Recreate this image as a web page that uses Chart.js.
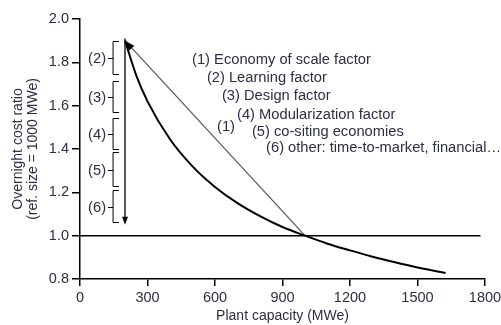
<!DOCTYPE html>
<html>
<head>
<meta charset="utf-8">
<script src="https://cdn.jsdelivr.net/npm/chart.js@4"></script>
<style>
  html, body { margin: 0; padding: 0; background: #fff; }
  #wrap { width: 501px; height: 325px; }
</style>
</head>
<body>
<div id="wrap"><canvas id="chart" width="501" height="325"></canvas></div>
<script>
// capacity (MWe) vs overnight cost ratio
const capacity = [200, 250, 300, 400, 500, 600, 700, 800, 900, 1000, 1100, 1200, 1300, 1400, 1500, 1625]
const costRatio = [1.90, 1.74, 1.62, 1.445, 1.32, 1.225, 1.15, 1.09, 1.04, 1.00, 0.963, 0.932, 0.903, 0.877, 0.853, 0.828]

// straight economy-of-scale line and reference line
const scaleLineX = [200, 1000]
const scaleLineY = [1.90, 1.00]
const refLineX = [0, 1780]
const refLineY = [1.0, 1.0]

// vertical arrow of the other factors
const arrowX = 200
const arrowTop = 1.91
const arrowBottom = 1.05

// brackets beside the vertical arrow
const bracketLabels = ['(2)', '(3)', '(4)', '(5)', '(6)']
const bracketTop = [1.90, 1.715, 1.545, 1.384, 1.209]
const bracketBottom = [1.747, 1.572, 1.402, 1.228, 1.062]
const bracketX = 147

// factor list
const factorLabels = [
  '(1) Economy of scale factor',
  '(2) Learning factor',
  '(3) Design factor',
  '(4) Modularization factor',
  '(1)',
  '(5) co-siting economies',
  '(6) other: time-to-market, financial\u2026'
]
const factorX = [498, 564, 631, 698, 609, 764, 827]
const factorY = [1.811, 1.729, 1.646, 1.559, 1.503, 1.480, 1.407]

const xTicks = [0, 300, 600, 900, 1200, 1500, 1800]
const yTicks = [0.8, 1.0, 1.2, 1.4, 1.6, 1.8, 2.0]

const textColor = '#2e2e44'
const fontFamily = '"Liberation Sans", Arial, sans-serif'

function arrowHead(ctx, tipX, tipY, fromX, fromY, len, half) {
  var a = Math.atan2(tipY - fromY, tipX - fromX)
  ctx.beginPath()
  ctx.moveTo(tipX, tipY)
  ctx.lineTo(tipX - len * Math.cos(a) + half * Math.sin(a), tipY - len * Math.sin(a) - half * Math.cos(a))
  ctx.lineTo(tipX - len * Math.cos(a) - half * Math.sin(a), tipY - len * Math.sin(a) + half * Math.cos(a))
  ctx.closePath()
  ctx.fill()
}

const annotations = {
  id: 'annotations',
  afterDatasetsDraw(chart) {
    var ctx = chart.ctx
    var xs = chart.scales.x
    var ys = chart.scales.y
    ctx.save()

    // arrowhead on the straight line
    ctx.fillStyle = '#000'
    arrowHead(ctx,
      xs.getPixelForValue(scaleLineX[0]), ys.getPixelForValue(scaleLineY[0]),
      xs.getPixelForValue(scaleLineX[1]), ys.getPixelForValue(scaleLineY[1]), 10, 3.5)

    // vertical arrow
    var ax = xs.getPixelForValue(arrowX)
    ctx.strokeStyle = '#000'
    ctx.lineWidth = 1.3
    ctx.beginPath()
    ctx.moveTo(ax, ys.getPixelForValue(arrowTop))
    ctx.lineTo(ax, ys.getPixelForValue(arrowBottom) - 6)
    ctx.stroke()
    arrowHead(ctx, ax, ys.getPixelForValue(arrowBottom), ax, ys.getPixelForValue(arrowTop), 8, 3)

    // brackets
    var bx = xs.getPixelForValue(bracketX)
    ctx.lineWidth = 1
    ctx.font = '14.7px ' + fontFamily
    ctx.fillStyle = textColor
    ctx.textAlign = 'right'
    ctx.textBaseline = 'middle'
    bracketLabels.forEach(function(label, i) {
      var t = Math.round(ys.getPixelForValue(bracketTop[i])) + 0.5
      var b = Math.round(ys.getPixelForValue(bracketBottom[i])) + 0.5
      var m = Math.round((t + b) / 2) + 0.5
      ctx.beginPath()
      ctx.moveTo(bx + 6, t)
      ctx.lineTo(bx, t)
      ctx.lineTo(bx, b)
      ctx.lineTo(bx + 6, b)
      ctx.moveTo(bx, m)
      ctx.lineTo(bx - 5, m)
      ctx.stroke()
      ctx.fillText(label, bx - 7, m)
    })

    // factor list
    ctx.textAlign = 'left'
    factorLabels.forEach(function(label, i) {
      ctx.fillText(label, xs.getPixelForValue(factorX[i]), ys.getPixelForValue(factorY[i]))
    })
    ctx.restore()
  }
}

const data = {
  datasets: [
    {
      data: capacity.map((x, i) => ({ x: x, y: costRatio[i] })),
      borderColor: '#000',
      borderWidth: 2,
      cubicInterpolationMode: 'monotone',
      pointRadius: 0
    },
    {
      data: scaleLineX.map((x, i) => ({ x: x, y: scaleLineY[i] })),
      borderColor: '#555',
      borderWidth: 1.2,
      pointRadius: 0
    },
    {
      data: refLineX.map((x, i) => ({ x: x, y: refLineY[i] })),
      borderColor: '#000',
      borderWidth: 1.5,
      pointRadius: 0
    }
  ]
}

new Chart(document.getElementById('chart'), {
  type: 'line',
  data: data,
  plugins: [annotations],
  options: {
    responsive: false,
    animation: false,
    layout: { padding: { top: 19, right: 16, left: 0, bottom: 0 } },
    plugins: { legend: { display: false }, tooltip: { enabled: false } },
    scales: {
      x: {
        type: 'linear',
        min: 0,
        max: 1800,
        afterFit: (scale) => { scale.height = 46; scale.paddingRight = 0 },
        afterBuildTicks: (scale) => { scale.ticks = xTicks.map(v => ({ value: v })) },
        border: { color: '#000', width: 1.5 },
        grid: { drawOnChartArea: false, color: '#000', lineWidth: 1.5, tickLength: 7 },
        ticks: {
          color: textColor,
          font: { family: fontFamily, size: 14.5 },
          padding: 3,
          maxRotation: 0,
          callback: (v) => String(v)
        },
        title: {
          display: true,
          text: 'Plant capacity (MWe)',
          color: textColor,
          font: { family: fontFamily, size: 14 },
          padding: { top: 0, bottom: 0 }
        }
      },
      y: {
        min: 0.8,
        max: 2.0,
        afterFit: (scale) => { scale.width = 80 },
        afterBuildTicks: (scale) => { scale.ticks = yTicks.map(v => ({ value: v })) },
        border: { color: '#000', width: 1.5 },
        grid: { drawOnChartArea: false, color: '#000', lineWidth: 1.5, tickLength: 8 },
        ticks: {
          color: textColor,
          font: { family: fontFamily, size: 14.5 },
          padding: 3,
          callback: (v) => v.toFixed(1)
        },
        title: {
          display: true,
          text: ['Overnight cost ratio', '(ref. size = 1000 MWe)'],
          color: textColor,
          font: { family: fontFamily, size: 14, lineHeight: 1.1 },
          padding: { top: 10, bottom: 0 }
        }
      }
    }
  }
})
</script>
</body>
</html>
